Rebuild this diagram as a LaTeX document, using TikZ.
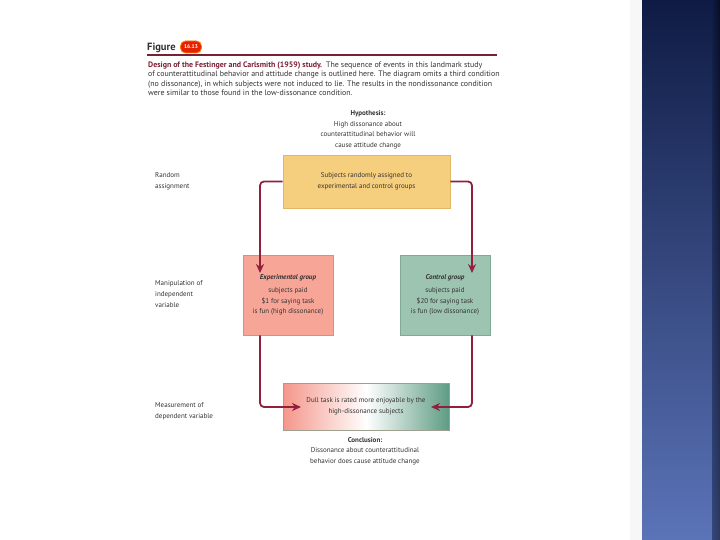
\documentclass[tikz,border=0pt]{standalone}
\usepackage{fontspec}
\setmainfont{PT Sans}
\usetikzlibrary{arrows.meta}
\definecolor{maroon}{HTML}{7B1F35}
\definecolor{connc}{HTML}{931F3F}
\definecolor{txt}{HTML}{333333}
\definecolor{yel}{HTML}{F6CF7E}
\definecolor{yelb}{HTML}{E2B866}
\definecolor{pnk}{HTML}{F7A597}
\definecolor{pnkb}{HTML}{E28A7C}
\definecolor{grn}{HTML}{9DC3B1}
\definecolor{grnb}{HTML}{80A996}
\definecolor{grad1}{HTML}{F4968A}
\definecolor{grad2}{HTML}{5E9C84}
\definecolor{bartop}{HTML}{0F1B44}
\definecolor{barbot}{HTML}{5B74B8}
\tikzset{
  small/.style={font=\fontsize{7}{10.5}\selectfont, text=txt, align=center, inner sep=0pt},
  sidelabel/.style={font=\fontsize{7}{11}\selectfont, text=txt, align=left, anchor=west, inner sep=0pt},
  stagebox/.style={minimum width=#1, inner sep=0pt, font=\fontsize{7}{10.5}\selectfont, text=txt, align=center},
  conn/.style={draw=connc, line width=1.8pt, rounded corners=4pt, -{Stealth[length=9pt,width=8pt]}},
}
\begin{document}
\begin{tikzpicture}[x=1pt,y=-1pt]
\useasboundingbox (0,0) rectangle (720,540);
\fill[white] (0,0) rectangle (720,540);
% right decorative bar
\fill[black!3] (630,0) rectangle (642,540);
\shade[top color=bartop, bottom color=barbot] (642,0) rectangle (720,540);
\shade[left color=bartop, right color=black, opacity=0.5] (712,0) rectangle (720,540);

% header
\node[anchor=west, inner sep=0pt, font=\fontsize{10.5}{11}\selectfont\bfseries, text=txt] (fig) at (147,48) {Figure};
\node[fill=red!70!orange!90!black, draw=orange, line width=0.8pt, rounded corners=5pt, minimum width=21pt, minimum height=12pt, inner sep=0pt, text=white, font=\fontsize{5.5}{6}\selectfont\bfseries] (badge) at (191,47) {16.13};
\draw[maroon, line width=1.6pt] (147,55) -- (497,55);
\node[anchor=north west, inner sep=0pt, align=left, text=txt, font=\fontsize{7.9}{9.4}\selectfont] (cap) at (148,61.5)
{{\color{maroon}\bfseries Design of the Festinger and Carlsmith (1959) study.}\enspace The sequence of events in this landmark study\\
of counterattitudinal behavior and attitude change is outlined here. The diagram omits a third condition\\
(no dissonance), in which subjects were not induced to lie. The results in the nondissonance condition\\
were similar to those found in the low-dissonance condition.};

% hypothesis
\node[small] (hyp) at (368,130) {\textbf{Hypothesis:}\\High dissonance about\\counterattitudinal behavior will\\cause attitude change};

% boxes
\node[stagebox=167pt, minimum height=53pt, fill=yel, draw=yelb, line width=0.6pt] (rand) at (366.5,181.5) {Subjects randomly assigned to\\experimental and control groups};
\node[stagebox=90pt, minimum height=80pt, fill=pnk, draw=pnkb, line width=0.6pt] (exp) at (288,295) {\textbf{\textit{Experimental group}}\\[3pt]subjects paid\\\$1 for saying task\\is fun (high dissonance)};
\node[stagebox=90pt, minimum height=80pt, fill=grn, draw=grnb, line width=0.6pt] (ctl) at (445,295) {\textbf{\textit{Control group}}\\[3pt]subjects paid\\\$20 for saying task\\is fun (low dissonance)};
\node[stagebox=166pt, minimum height=47pt, left color=grad1, right color=grad2, middle color=white, draw=grnb!70!pnkb, line width=0.6pt] (res) at (366,406.5) {Dull task is rated more enjoyable by the\\high-dissonance subjects};

% conclusion
\node[small] (conc) at (365,451) {\textbf{Conclusion:}\\Dissonance about counterattitudinal\\behavior does cause attitude change};

% side labels
\node[sidelabel] (lab1) at (155,181.5) {Random\\assignment};
\node[sidelabel] (lab2) at (155,294) {Manipulation of\\independent\\variable};
\node[sidelabel] (lab3) at (155,411) {Measurement of\\dependent variable};

% arrow end points
\coordinate (ea) at (260,273);
\coordinate (ca) at (472,273);
\coordinate (ra) at (301,407);
\coordinate (rb) at (431,407);

% connectors
\draw[conn] (rand.west) -| (ea);
\draw[conn] (rand.east) -| (ca);
\draw[conn] (exp.south -| ea) |- (ra);
\draw[conn] (ctl.south -| ca) |- (rb);
\end{tikzpicture}
\end{document}
